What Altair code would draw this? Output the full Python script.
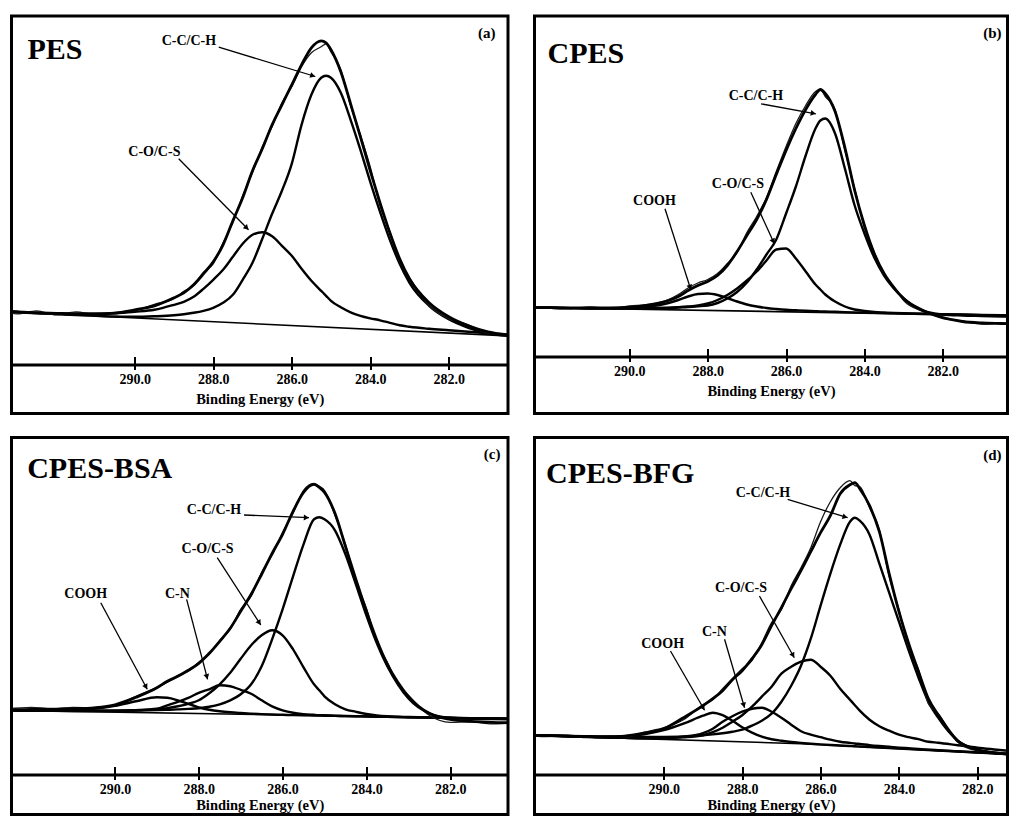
import math
import altair as alt
import pandas as pd

FONT = "Liberation Serif"
AXIS_TITLE = "Binding Energy (eV)"
TICKS = [290, 288, 286, 284, 282]

# Binding energy grid (eV) shared by every curve
ENERGY = [293.5, 293, 292.5, 292, 291.5, 291, 290.5, 290, 289.5, 289, 288.75, 288.5,
          288.25, 288, 287.75, 287.5, 287.25, 287, 286.75, 286.5, 286.25, 286, 285.75,
          285.5, 285.25, 285.125, 285, 284.75, 284.5, 284.25, 284, 283.75, 283.5, 283.25,
          283, 282.5, 282, 281.5, 281, 280.5, 280]

# ---------------- (a) PES ----------------
A_RAW = [54, 49, 52, 48, 51, 48.5, 50.5, 52, 58.5, 64, 71.5, 77, 90.5, 99, 120, 140, 167, 190, 216, 236,
         260, 276, 296, 310, 316, 319, 311, 293, 257, 228, 196, 157, 131, 101, 85, 57, 44, 38, 29.5, 29, 26.5]
A_ENV = [52, 51, 50, 49.5, 49, 49, 49.7, 53, 57, 65, 70, 78, 89, 101, 118, 142, 165, 192, 214, 238,
         258, 278, 298, 315, 322, 320, 313, 291, 259, 226, 192, 160, 130, 104, 84, 60, 46, 37, 31, 28, 27]
A_CC = [51.4, 50.5, 49.6, 48.7, 47.8, 47, 46.3, 46, 46.5, 47.5, 48.5, 50, 52, 55, 60, 68, 83, 100, 124, 149,
        172, 199, 238, 268, 285, 287, 285, 270, 243, 213, 181, 151, 123, 99, 80, 57, 43.5, 35, 29.5, 27, 26]
A_CO = [52, 51, 50, 49.5, 49, 49, 49.5, 51, 53, 58, 61, 66, 74, 83, 93, 106, 119, 128, 130.5, 126.5,
        117, 107, 94, 82, 72, 67, 62, 55.5, 50.5, 47, 44.5, 42.5, 40, 37.5, 36, 34, 32.5, 31, 29.5, 28, 27]
A_BASE_E = [293.5, 280]
A_BASE_I = [51.4, 26]
A_LABELS = ["C-C/C-H", "C-O/C-S"]
A_LAB_E = [288.62, 289.5]
A_LAB_I = [322.3, 210.6]
A_ARR_E0 = [287.86, 288.88]
A_ARR_I0 = [315.6, 204]
A_ARR_E1 = [285.4, 287.1]
A_ARR_I1 = [286.3, 133]

# ---------------- (b) CPES ----------------
B_RAW = [49.5, 47.5, 49, 48, 47, 48.5, 47, 49.5, 51, 56, 61, 67.5, 72.5, 76, 82, 92, 103, 123, 139, 158,
         184, 209, 232, 250, 264, 266, 259, 246, 205, 167, 128, 103, 80, 69, 55, 44, 37, 34.5, 31.5, 32.5, 31]
B_ENV = [48.5, 48.3, 48, 47.8, 47.6, 47.5, 47.6, 48, 50.5, 55, 59, 65, 70, 74, 80, 90, 104, 120, 136, 156,
         181, 205, 227, 246, 261, 266, 262, 244, 208, 165, 130, 102, 82, 68, 57, 45, 38, 34, 32.5, 32, 31.5]
B_CC = [48.7, 48.3, 48, 47.7, 47.4, 47.2, 47.2, 47.3, 47.4, 47.5, 48, 48.5, 49.2, 50, 52.5, 57, 63.5, 73, 86, 101,
        116, 142, 169, 200, 227, 235, 237, 222, 187, 150, 122, 98, 80, 67, 57, 44.5, 41, 40, 39.5, 39, 38.5]
B_CO = [48.7, 48.3, 48, 47.7, 47.4, 47.2, 47.2, 47.3, 47.5, 47.8, 48.3, 49, 50, 52, 55.5, 60.5, 67, 75, 84, 95,
        106, 107, 97, 84, 71, 66, 61, 54, 49, 46, 44.5, 43.5, 43, 42.6, 42.3, 41.8, 41.4, 41, 40.6, 40.2, 39.9]
B_COOH = [48.7, 48.3, 48, 47.7, 47.4, 47.2, 47.2, 47.7, 49, 52.5, 55.5, 59, 61.5, 62, 60.5, 57.5, 54, 51, 49, 47.5,
          46.5, 45.7, 45.2, 44.7, 44.3, 44.1, 44, 43.7, 43.4, 43.1, 42.8, 42.6, 42.4, 42.1, 41.9, 41.5, 41.1, 40.8,
          40.4, 40, 39.7]
B_BASE_E = [293.5, 280]
B_BASE_I = [48.7, 39.7]
B_LABELS = ["C-C/C-H", "C-O/C-S", "COOH"]
B_LAB_E = [286.77, 287.23, 289.36]
B_LAB_I = [260, 171.7, 155]
B_ARR_E0 = [286.64, 286.9, 289.09]
B_ARR_I0 = [251.7, 163.3, 146.7]
B_ARR_E1 = [285.24, 286.3, 288.43]
B_ARR_I1 = [241.7, 111.7, 65.7]

# ---------------- (c) CPES-BSA ----------------
C_RAW = [71, 72.5, 71, 72, 71, 72, 71.5, 74, 83, 92, 97, 104, 108, 117, 125, 139, 150, 170, 183, 207,
         224, 247, 266, 289, 296, 293, 289, 264, 235, 198, 171, 137, 117, 95, 84, 64, 57, 57.5, 55.5, 56, 55]
C_ENV = [69.5, 69.5, 69.6, 69.8, 70, 70.5, 71.5, 74.5, 82, 91.5, 98, 103, 109, 116, 126, 138, 151, 168, 185, 205,
         226, 245, 268, 287, 295, 292, 287, 266, 233, 200, 168, 139, 115, 97, 83, 66, 60, 58, 57, 56.5, 56]
C_CC = [69.6, 69.3, 69, 68.8, 68.6, 68.5, 68.5, 68.6, 68.8, 69.2, 69.5, 69.9, 70.4, 71, 72.5, 75, 79, 85, 95, 113,
        140, 170, 203, 235, 260, 262, 260, 249, 225, 195, 164, 136, 113, 95, 81, 66, 61.5, 60.5, 60.2, 60, 59.8]
C_CO = [69.6, 69.3, 69, 68.8, 68.6, 68.5, 68.5, 68.7, 69.2, 70.2, 71.2, 73, 75.5, 79, 86, 95, 106.5, 120.5, 134, 144,
        149, 144, 130, 112, 95, 89, 83, 75, 70, 67.5, 65.3, 63.8, 63, 62.6, 62.3, 61.8, 61.4, 61.1, 60.8, 60.5, 60.2]
C_CN = [69.6, 69.3, 69, 68.8, 68.5, 68.3, 68.2, 68.3, 69, 70.5, 74, 77.5, 81.5, 86.5, 90, 94, 93, 89.5, 85.5, 79,
        73, 69, 66.5, 65.2, 64.5, 64.2, 64, 63.6, 63.3, 63.1, 62.9, 62.7, 62.5, 62.3, 62.1, 61.7, 61.4, 61.1, 60.8,
        60.5, 60.2]
C_COOH = [69.6, 69.3, 69, 68.8, 68.7, 69, 70.5, 73.5, 78, 82, 81.5, 79, 75.5, 72, 69.5, 68, 67, 66.3, 65.7, 65.2,
          64.8, 64.5, 64.2, 64, 63.8, 63.7, 63.6, 63.4, 63.2, 63, 62.8, 62.6, 62.4, 62.2, 62, 61.7, 61.4, 61.1,
          60.8, 60.5, 60.2]
C_BASE_E = [293.5, 280]
C_BASE_I = [69.6, 60.2]
C_LABELS = ["C-C/C-H", "C-O/C-S", "C-N", "COOH"]
C_LAB_E = [287.64, 287.79, 288.51, 290.7]
C_LAB_I = [269, 230, 185.6, 185.6]
C_ARR_E0 = [286.92, 287.56, 288.29, 290.34]
C_ARR_I0 = [264.3, 221.6, 180, 176.6]
C_ARR_E1 = [285.37, 286.52, 287.79, 289.23]
C_ARR_I1 = [261.6, 154.3, 100, 90]

# ---------------- (d) CPES-BFG ----------------
D_RAW = [43, 41, 42.5, 40, 41.5, 40.5, 45.5, 50, 58, 73, 78, 89, 99, 109, 117, 135, 155, 168, 192, 210,
         230, 256, 276, 290, 297, 292, 291, 270, 248, 201, 168, 130, 108, 74, 64, 35.5, 27, 25.5, 22.5, 23, 21]
D_ENV = [42.5, 42, 41.5, 41, 40.5, 41.5, 44.5, 49, 60, 72, 79, 87, 98, 107, 119, 133, 152, 170, 189, 207,
         226, 245, 262, 284, 293, 295, 289, 272, 246, 204, 166, 134, 106, 79, 63, 37, 28, 24.5, 23.3, 22.3, 21.5]
D_CC = [42.8, 42.2, 41.7, 41.3, 41, 40.8, 40.7, 40.8, 41.2, 42.3, 43.3, 44.5, 46, 48, 52, 57, 64, 76, 92, 112,
        139, 172, 204, 233, 256, 260, 257, 243, 214, 185, 156, 127, 100, 76, 60, 37, 28, 24.5, 23.3, 22.3, 21.5]
D_CO = [42.8, 42.2, 41.6, 41, 40.4, 39.9, 39.6, 39.7, 40.5, 42.5, 45.5, 50, 56, 62.5, 71, 81, 91, 104, 111, 116,
        118, 111, 102, 89, 78, 72.5, 67, 58, 51.5, 47, 43, 40.5, 38.5, 36, 35, 32.5, 30, 28, 26, 24, 22.5]
D_CN = [42.7, 42.1, 41.5, 40.9, 40.3, 39.8, 39.5, 39.7, 41, 44.5, 49, 56, 61.5, 66, 69, 70, 66, 60, 53, 46.5,
        43, 40.5, 38, 36, 34.8, 34.2, 33.7, 32.6, 31.7, 30.9, 30.1, 29.4, 28.7, 28.1, 27.5, 26.4, 25.3, 24.3,
        23.3, 22.3, 21.3]
D_COOH = [42.8, 42.3, 41.8, 41.4, 41.2, 41.5, 43.5, 47.5, 54, 62, 65, 62.5, 57, 50.5, 45, 41, 38.5, 37, 35.7, 34.8,
          34, 33.3, 32.7, 32.2, 31.7, 31.4, 31.2, 30.7, 30.2, 29.7, 29.2, 28.7, 28.2, 27.7, 27.2, 26.2, 25.2, 24.2,
          23.2, 22.2, 21.2]
D_BASE_E = [293.5, 286.5, 280]
D_BASE_I = [42.6, 34, 21]
D_LABELS = ["C-C/C-H", "C-O/C-S", "C-N", "COOH"]
D_LAB_E = [287.47, 288.03, 288.71, 290.03]
D_LAB_I = [285, 190, 146, 134]
D_ARR_E0 = [286.84, 287.56, 288.45, 289.83]
D_ARR_I0 = [278.4, 181.7, 138.4, 126.7]
D_ARR_E1 = [285.31, 286.67, 287.94, 288.96]
D_ARR_I1 = [260, 120, 70, 67.4]


def panel(name, tag, w, h, xdom, ydom, off, raw, env, comps, base_e, base_i,
          labels, lab_e, lab_i, e0, i0, e1, i1, name_xy, tag_xy, lpad, tpad):
    lo, hi = xdom
    ymin, ymax = ydom
    xs = alt.Scale(domain=[lo, hi], reverse=True, nice=False, zero=False)
    ys = alt.Scale(domain=[ymin, ymax], nice=False, zero=False)
    main_axis = alt.Axis(values=TICKS, format=".1f", orient="bottom", offset=off,
                         title=AXIS_TITLE, grid=False, tickSize=5, labelFlush=False,
                         labelPadding=lpad, titlePadding=tpad)
    tick_axis = alt.Axis(values=TICKS, orient="bottom", offset=off - 8, domain=False,
                         labels=False, title="", grid=False, tickSize=8)

    def X(field, axis=None):
        return alt.X(field, type="quantitative", scale=xs, axis=axis)

    def Y(field):
        return alt.Y(field, type="quantitative", scale=ys, axis=None)

    n = len(ENERGY)
    comp_df = pd.DataFrame({
        "e": ENERGY * len(comps),
        "i": [v for c in comps for v in c],
        "s": [k for k in range(len(comps)) for _ in range(n)],
    })
    env_df = pd.DataFrame({"e": ENERGY, "i": env})
    raw_df = pd.DataFrame({"e": ENERGY, "i": raw})
    base_df = pd.DataFrame({"e": base_e, "i": base_i})

    ppe = w / (hi - lo)
    ppv = h / (ymax - ymin)
    he, hv, ang = [], [], []
    for a, b, c, d in zip(e0, i0, e1, i1):
        sx = -(c - a) * ppe
        sy = -(d - b) * ppv
        ln = math.hypot(sx, sy)
        ux, uy = sx / ln, sy / ln
        ang.append(math.degrees(math.atan2(sx, -sy)) % 360)
        he.append(c + 3.5 * ux / ppe)
        hv.append(d + 3.5 * uy / ppv)
    ann_df = pd.DataFrame({"label": labels, "le": lab_e, "li": lab_i,
                           "e0": e0, "i0": i0, "e1": e1, "i1": i1,
                           "he": he, "hv": hv, "ang": ang})

    base = alt.Chart(base_df).mark_line(color="black", strokeWidth=1.6, clip=True).encode(
        x=X("e", tick_axis), y=Y("i"))
    comp = alt.Chart(comp_df).mark_line(color="black", strokeWidth=2.4, interpolate="monotone",
                                        clip=True).encode(x=X("e"), y=Y("i"), detail="s:N")
    rawl = alt.Chart(raw_df).mark_line(color="#1a1a1a", strokeWidth=1.3, interpolate="monotone",
                                       clip=True).encode(x=X("e"), y=Y("i"))
    envl = alt.Chart(env_df).mark_line(color="black", strokeWidth=2.8, interpolate="monotone",
                                       clip=True).encode(x=X("e", main_axis), y=Y("i"))
    arrows = alt.Chart(ann_df).mark_rule(color="black", strokeWidth=1.3).encode(
        x=X("e0"), x2="e1", y=Y("i0"), y2="i1")
    heads = alt.Chart(ann_df).mark_point(shape="triangle", filled=True, color="black", size=34,
                                         opacity=1).encode(
        x=X("he"), y=Y("hv"), angle=alt.Angle("ang", type="quantitative", scale=None))
    texts = alt.Chart(ann_df).mark_text(font=FONT, fontWeight="bold", fontSize=14, color="black",
                                        align="center", baseline="middle").encode(
        x=X("le"), y=Y("li"), text="label:N")
    name_t = alt.Chart(pd.DataFrame({"t": [name]})).mark_text(
        font=FONT, fontWeight="bold", fontSize=30, color="black", align="left",
        baseline="alphabetic", x=name_xy[0], y=name_xy[1]).encode(text="t:N")
    tag_t = alt.Chart(pd.DataFrame({"t": [tag]})).mark_text(
        font=FONT, fontWeight="bold", fontSize=15, color="black", align="right",
        baseline="alphabetic", x=tag_xy[0], y=tag_xy[1]).encode(text="t:N")

    return alt.layer(base, comp, rawl, envl, arrows, heads, texts, name_t, tag_t).resolve_axis(
        x="independent").properties(width=w, height=h)


pa = panel("PES", "(a)", 496.5, 397.5, (280.49, 293.14), (-50.7, 346.8), -49,
           A_RAW, A_ENV, [A_CC, A_CO], A_BASE_E, A_BASE_I,
           A_LABELS, A_LAB_E, A_LAB_I, A_ARR_E0, A_ARR_I0, A_ARR_E1, A_ARR_I1,
           (16, 42.5), (484, 21.5), 2.5, 6)
pb = panel("CPES", "(b)", 473, 397.5, (280.35, 292.42), (-58, 339.5), -57,
           B_RAW, B_ENV, [B_CC, B_CO, B_COOH], B_BASE_E, B_BASE_I,
           B_LABELS, B_LAB_E, B_LAB_I, B_ARR_E0, B_ARR_I0, B_ARR_E1, B_ARR_I1,
           (13, 46.5), (467, 21.5), 2.5, 6)
pc = panel("CPES-BSA", "(c)", 496.5, 377, (280.62, 292.47), (-35.2, 341.8), -40,
           C_RAW, C_ENV, [C_CC, C_CO, C_CN, C_COOH], C_BASE_E, C_BASE_I,
           C_LABELS, C_LAB_E, C_LAB_I, C_ARR_E0, C_ARR_I0, C_ARR_E1, C_ARR_I1,
           (15.7, 40), (489, 21.5), 2.5, 2)
pd_ = panel("CPES-BFG", "(d)", 473, 377, (281.23, 293.3), (-36.8, 340.2), -40,
            D_RAW, D_ENV, [D_CC, D_CO, D_CN, D_COOH], D_BASE_E, D_BASE_I,
            D_LABELS, D_LAB_E, D_LAB_I, D_ARR_E0, D_ARR_I0, D_ARR_E1, D_ARR_I1,
            (11.5, 45), (467, 22), 2.5, 2)

top = alt.hconcat(pa, pb, spacing=23)
bottom = alt.hconcat(pc, pd_, spacing=23)

chart = alt.vconcat(top, bottom, spacing=20.5).properties(
    padding={"left": 1.5, "top": 6, "right": 0, "bottom": 0},
    background="white",
).configure_view(
    stroke="black", strokeWidth=3
).configure_axis(
    domainColor="black", domainWidth=3, tickColor="black", tickWidth=2,
    labelFont=FONT, labelFontWeight="bold", labelFontSize=14, labelColor="black",
    titleFont=FONT, titleFontWeight="bold", titleFontSize=14.5, titleColor="black",
)

chart.save("out.html", embed_options={"renderer": "svg", "actions": False})
